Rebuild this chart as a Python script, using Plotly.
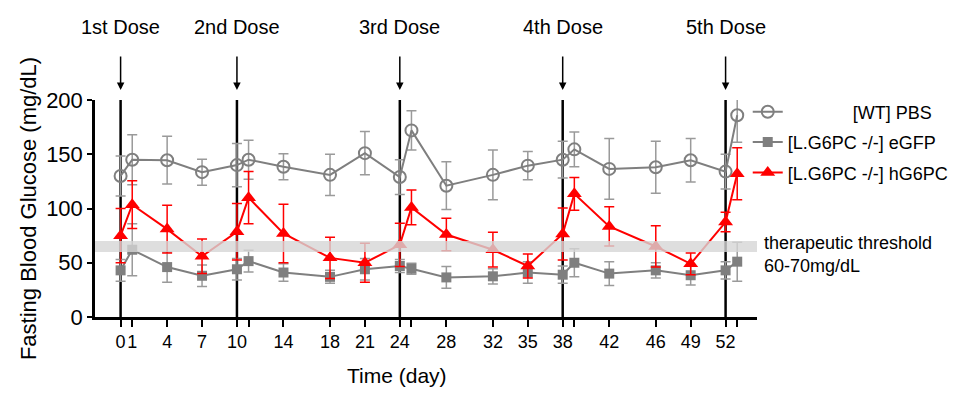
import plotly.graph_objects as go

# ---- data ----
days = [0, 1, 4, 7, 10, 11, 14, 18, 21, 24, 25, 28, 32, 35, 38, 39, 42, 46, 49, 52, 53]
tick_labels = ["0", "1", "4", "7", "10", "", "14", "18", "21", "24", "", "28",
               "32", "35", "38", "", "42", "46", "49", "52", ""]

wt_mean = [130, 145, 144.5, 133.5, 140, 145, 138.5, 131, 151, 129, 172, 121,
           131, 139.5, 145, 154.5, 136.5, 138, 144.5, 134, 186]
wt_err = [18.5, 23, 22, 12, 20, 18, 12, 19, 20, 16, 18, 22, 23, 13, 17, 16, 28, 24, 20, 16, 25]

egfp_mean = [43, 62, 46, 38, 44, 51.5, 41, 37, 44, 47, 44.5, 36.5, 37.5, 41, 39, 50,
             40, 43, 38.5, 43, 51]
egfp_err = [10, 24, 14, 10, 10, 10, 8, 6, 10, 6, 5, 10, 7, 10, 8, 13, 11, 7, 9, 8, 18]

hg_mean = [75, 103.5, 81, 56, 78.5, 110, 77, 54.5, 50, 66.5, 101, 76, 62, 47, 76.5,
           113.5, 83.5, 65, 49, 87.5, 132]
hg_err = [25, 22, 22, 16, 26, 24, 27, 19, 18, 20, 16, 15, 16, 11, 24, 15, 18, 19, 10, 9, 24]

dose_days = [0, 10, 24, 38, 52]
dose_labels = ["1st Dose", "2nd Dose", "3rd Dose", "4th Dose", "5th Dose"]
threshold = [60, 70]
threshold_text = "therapeutic threshold<br>60-70mg/dL"

FONT = "Liberation Sans, Arial, sans-serif"
GRAY = "#7f7f7f"
EGRAY = "#9a9a9a"
RED = "#ff0000"

fig = go.Figure()

fig.add_trace(go.Scatter(
    x=days, y=wt_mean, name="\u00a0" * 13 + "[WT] PBS", mode="lines+markers",
    line=dict(color=GRAY, width=2),
    marker=dict(symbol="circle-open", size=12, color=GRAY, line=dict(width=2, color=GRAY)),
    error_y=dict(type="data", array=wt_err, color=EGRAY, thickness=1.5, width=5),
    cliponaxis=False, legendgroup="a"))

fig.add_trace(go.Scatter(
    x=days, y=egfp_mean, name="[L.G6PC -/-] eGFP", mode="lines+markers",
    line=dict(color=GRAY, width=2),
    marker=dict(symbol="square", size=10, color=GRAY),
    error_y=dict(type="data", array=egfp_err, color=EGRAY, thickness=1.5, width=5),
    cliponaxis=False, legendgroup="b"))

fig.add_trace(go.Scatter(
    x=days, y=hg_mean, name="[L.G6PC -/-] hG6PC", mode="lines+markers",
    line=dict(color=RED, width=2),
    marker=dict(symbol="triangle-up", size=13, color=RED),
    error_y=dict(type="data", array=hg_err, color=RED, thickness=1.5, width=5),
    cliponaxis=False, legendgroup="c"))

shapes = []
for d in dose_days:
    shapes.append(dict(type="line", xref="x", yref="paper", x0=d, x1=d, y0=0, y1=1,
                       line=dict(color="black", width=2.5), layer="below"))
shapes.append(dict(type="rect", xref="paper", yref="y", x0=0, x1=1,
                   y0=threshold[0], y1=threshold[1], fillcolor="#d6d6d6",
                   opacity=0.8, line=dict(width=0), layer="above"))

annotations = []
for d, lab in zip(dose_days, dose_labels):
    annotations.append(dict(x=d, xref="x", y=1, yref="paper", yshift=73, text=lab,
                            showarrow=False, font=dict(family=FONT, size=20, color="black"),
                            xanchor="center", yanchor="middle"))
    annotations.append(dict(x=d, xref="x", y=1.046, yref="paper", text="", showarrow=True,
                            ax=0, ay=-35, arrowhead=2, arrowsize=1, arrowwidth=1.5,
                            arrowcolor="black"))
annotations.append(dict(x=1, xref="paper", xshift=5, y=65, yref="y", yshift=-8,
                        text=threshold_text, showarrow=False, align="left",
                        xanchor="left", yanchor="middle",
                        font=dict(family=FONT, size=18, color="black")))
annotations.append(dict(x=0.456, xref="paper", y=0, yref="paper", yshift=-58,
                        text="Time (day)", showarrow=False, xanchor="center",
                        yanchor="middle", font=dict(family=FONT, size=21, color="black")))

fig.update_layout(
    width=967, height=398,
    margin=dict(l=87, r=218, t=92, b=89, autoexpand=False),
    paper_bgcolor="white", plot_bgcolor="white",
    font=dict(family=FONT, color="black"),
    showlegend=True,
    legend=dict(x=0.986, y=1.03, xanchor="left", yanchor="top",
                font=dict(family=FONT, size=18, color="black"),
                bgcolor="rgba(0,0,0,0)", tracegroupgap=4, traceorder="grouped"),
    shapes=shapes, annotations=annotations,
    xaxis=dict(range=[-2.2, 54.7], tickmode="array", tickvals=days, ticktext=tick_labels,
               tickangle=0, automargin=False,
               showgrid=False, zeroline=False, showline=True, linecolor="black",
               linewidth=2.5, ticks="outside", ticklen=7, tickwidth=2, tickcolor="black",
               tickfont=dict(family=FONT, size=18, color="black")),
    yaxis=dict(range=[0, 200], tickvals=[0, 50, 100, 150, 200], showgrid=False,
               automargin=False,
               zeroline=False, showline=True, linecolor="black", linewidth=2.5,
               ticks="outside", ticklen=5, tickwidth=2, tickcolor="black",
               tickfont=dict(family=FONT, size=22, color="black"),
               title=dict(text="Fasting Blood Glucose (mg/dL)", standoff=4,
                          font=dict(family=FONT, size=22, color="black"))),
)

fig.write_html("out.html")
